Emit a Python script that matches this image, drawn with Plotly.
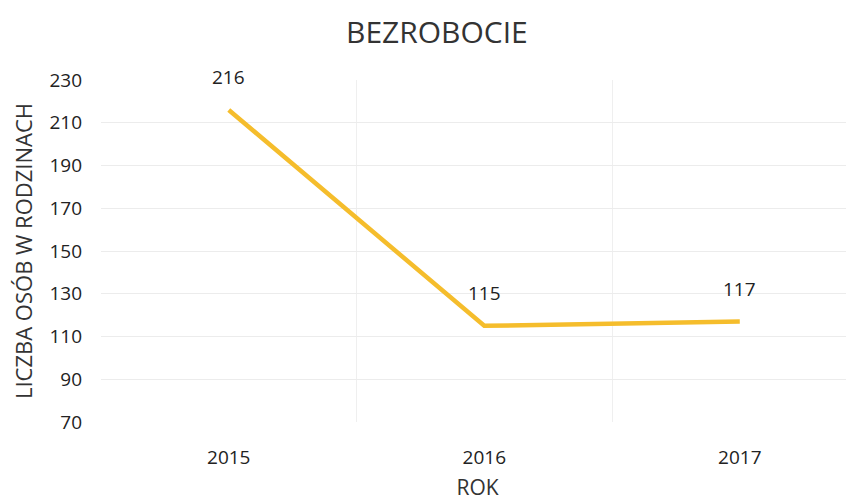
import plotly.graph_objects as go

years = ["2015", "2016", "2017"]
values = [216, 115, 117]
y_ticks = [70, 90, 110, 130, 150, 170, 190, 210, 230]

font_family = "Open Sans, Noto Sans, sans-serif"
line_color = "#F5BD2C"

fig = go.Figure()
fig.add_trace(go.Scatter(
    x=years, y=values, mode="lines",
    line=dict(color=line_color, width=4.5),
    hoverinfo="skip", showlegend=False,
))
for i, v in enumerate(values):
    fig.add_annotation(x=i, y=v, xref="x", yref="y", text=str(v), showarrow=False,
                       yshift=33, font=dict(size=19, color="#222222", family=font_family))

# the page body adds an 8px offset; figure is sized to fit the 854x501 window
fig.update_layout(
    width=846, height=493,
    margin=dict(l=93, r=0, t=72, b=79),
    paper_bgcolor="white", plot_bgcolor="white",
    title=dict(text="BEZROBOCIE", x=0.507, xanchor="center", y=0.951, yanchor="middle",
               font=dict(size=30, color="#333333", family=font_family)),
    font=dict(family=font_family, color="#222222"),
)
fig.update_xaxes(
    type="category", range=[-0.5, 2.447], tickson="boundaries", automargin=False,
    showgrid=True, gridcolor="#efefef", gridwidth=1, ticks="", showline=False,
    zeroline=False, tickfont=dict(size=19, color="#222222"), ticklabelstandoff=22,
    title=dict(text="ROK", font=dict(size=21, color="#333333"), standoff=24),
)
fig.update_yaxes(
    range=[70, 230], tickvals=y_ticks, showgrid=True, gridcolor="#ececec", gridwidth=1,
    automargin=False, ticklabelstandoff=18,
    zeroline=False, showline=False, ticks="", tickfont=dict(size=19, color="#222222"),
    title=dict(text="LICZBA OSÓB W RODZINACH", font=dict(size=22, color="#333333"), standoff=10),
)

fig.write_html("out.html")
